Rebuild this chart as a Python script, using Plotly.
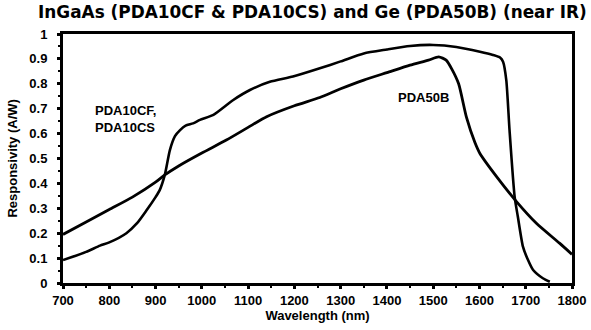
import plotly.graph_objects as go

# Ge (PDA50B)
ge_wl = [700, 750, 800, 850, 900, 920, 950, 1000, 1053, 1100, 1140, 1200, 1255, 1300,
         1350, 1400, 1450, 1490, 1512, 1528, 1540, 1555, 1572, 1590, 1601, 1637,
         1680, 1723, 1773, 1800]
ge_resp = [0.195, 0.245, 0.295, 0.345, 0.405, 0.434, 0.47, 0.522, 0.574, 0.625, 0.668,
           0.712, 0.745, 0.78, 0.815, 0.845, 0.875, 0.895, 0.908, 0.895, 0.86, 0.80,
           0.665, 0.565, 0.52, 0.427, 0.327, 0.24, 0.16, 0.115]

# InGaAs (PDA10CF, PDA10CS)
ingaas_wl = [700, 750, 780, 800, 837, 860, 881, 900, 909, 920, 931, 942, 953, 965, 981,
             996, 1025, 1068, 1104, 1147, 1197, 1255, 1300, 1350, 1400, 1450, 1500,
             1550, 1601, 1629, 1645, 1651, 1658, 1665, 1676, 1683, 1694, 1705, 1716,
             1737, 1752]
ingaas_resp = [0.092, 0.125, 0.15, 0.163, 0.2, 0.24, 0.293, 0.345, 0.373, 0.434, 0.534,
               0.59, 0.614, 0.632, 0.641, 0.655, 0.675, 0.735, 0.775, 0.808, 0.829,
               0.862, 0.89, 0.922, 0.938, 0.952, 0.956, 0.948, 0.929, 0.916, 0.905,
               0.889, 0.815, 0.614, 0.347, 0.266, 0.146, 0.092, 0.052, 0.019, 0.005]

x_ticks = list(range(700, 1801, 100))
y_ticks = [0, 0.1, 0.2, 0.3, 0.4, 0.5, 0.6, 0.7, 0.8, 0.9, 1]
y_labels = ["0", "0.1", "0.2", "0.3", "0.4", "0.5", "0.6", "0.7", "0.8", "0.9", "1"]

FONT = "Liberation Sans, Arial, sans-serif"
TFONT = "DejaVu Sans, Liberation Sans, sans-serif"

fig = go.Figure()
fig.add_trace(go.Scatter(x=ge_wl, y=ge_resp, mode="lines", name="PDA50B",
                         line=dict(color="black", width=2.8, shape="spline", smoothing=0.6)))
fig.add_trace(go.Scatter(x=ingaas_wl, y=ingaas_resp, mode="lines", name="PDA10CF, PDA10CS",
                         line=dict(color="black", width=2.6, shape="spline", smoothing=0.6)))

fig.add_annotation(x=765, y=0.657, text="<b>PDA10CF,<br>PDA10CS</b>", showarrow=False,
                   xanchor="left", yanchor="middle", align="left",
                   font=dict(family=FONT, size=13, color="black"))
fig.add_annotation(x=1480, y=0.747, text="<b>PDA50B</b>", showarrow=False,
                   xanchor="center", yanchor="middle",
                   font=dict(family=FONT, size=13, color="black"))

# y-axis title as an annotation for precise placement
fig.add_annotation(xref="paper", yref="paper", x=-0.1, y=0.5,
                   text="<b>Responsivity (A/W)</b>", textangle=-90, showarrow=False,
                   xanchor="center", yanchor="middle",
                   font=dict(family=FONT, size=13, color="black"))

fig.update_layout(
    width=591, height=330,
    margin=dict(l=63, r=19, t=34, b=47),
    paper_bgcolor="white", plot_bgcolor="white",
    showlegend=False,
    title=dict(text="<b>InGaAs (PDA10CF & PDA10CS) and Ge (PDA50B) (near IR)</b>",
               xref="container", yref="container",
               x=38 / 591, xanchor="left", y=1 - 12 / 330, yanchor="middle",
               font=dict(family=TFONT, size=16.9, color="black")),
    font=dict(family=FONT, color="black"),
)
fig.update_xaxes(
    range=[700, 1800], tickvals=x_ticks, ticktext=["<b>%d</b>" % v for v in x_ticks],
    tickfont=dict(family=FONT, size=13, color="black"),
    ticks="outside", ticklen=3, tickwidth=3, tickcolor="black",
    minor=dict(dtick=50, tick0=700, ticks="outside", ticklen=2, tickwidth=2, tickcolor="black"),
    showline=True, linecolor="black", linewidth=3, mirror=True,
    showgrid=False, zeroline=False, automargin=False,
    title=dict(text="<b>Wavelength (nm)</b>", font=dict(family=FONT, size=13, color="black"),
               standoff=0),
)
fig.update_yaxes(
    range=[0, 1], tickvals=y_ticks, ticktext=["<b>%s</b>" % s for s in y_labels],
    tickfont=dict(family=FONT, size=13, color="black"),
    ticks="outside", ticklen=3, tickwidth=3, tickcolor="black", ticklabelstandoff=7,
    minor=dict(dtick=0.05, tick0=0, ticks="outside", ticklen=2, tickwidth=2, tickcolor="black"),
    showline=True, linecolor="black", linewidth=3, mirror=True,
    showgrid=False, zeroline=False, automargin=False,
)

fig.write_html("out.html", config={"displayModeBar": False},
               post_script="document.body.style.margin='0';")
